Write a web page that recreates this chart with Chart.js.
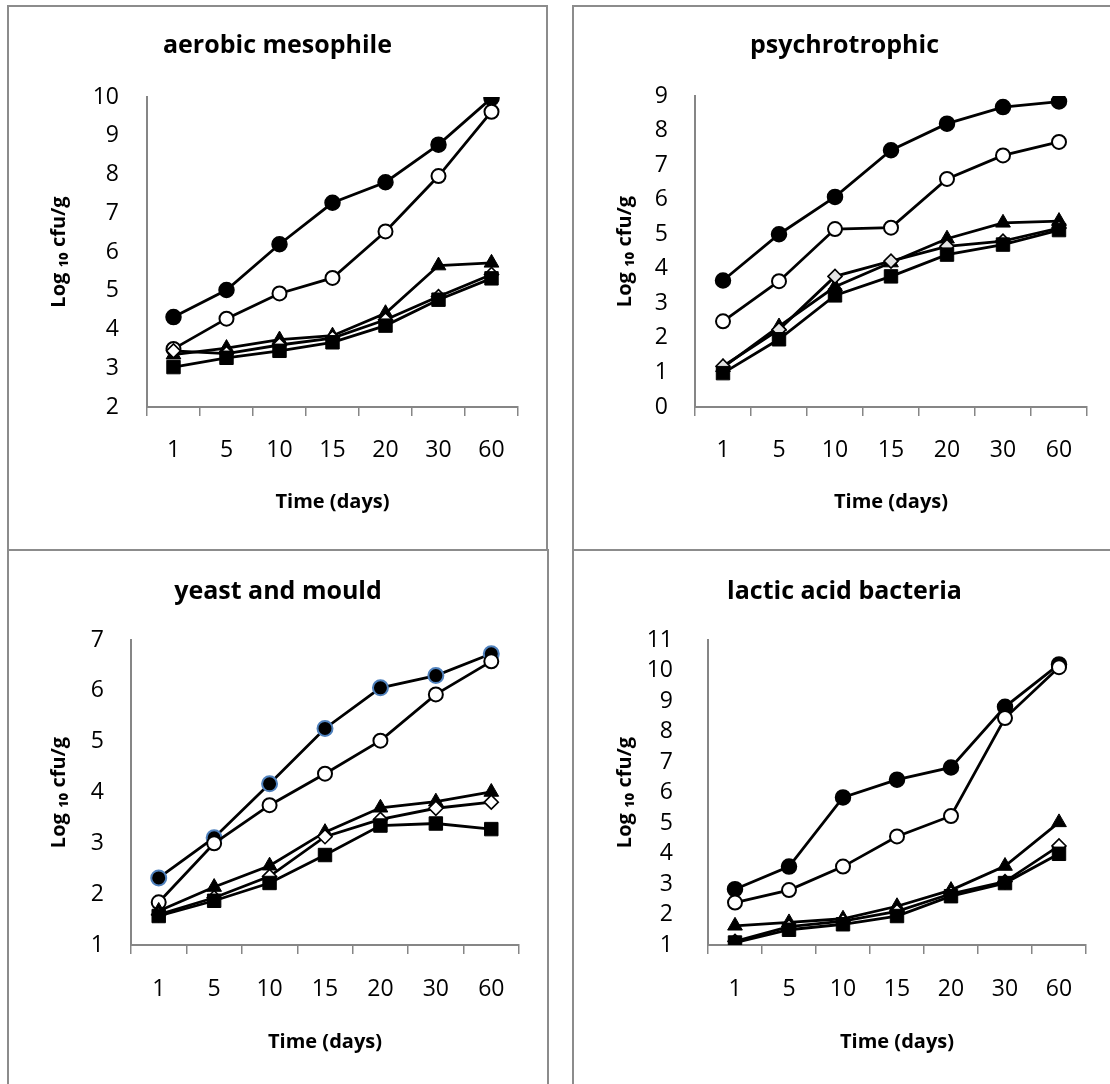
<!DOCTYPE html>
<html><head><meta charset="utf-8">
<script src="https://cdn.jsdelivr.net/npm/chart.js@4.4.0/dist/chart.umd.min.js"></script>
<style>
html,body{margin:0;padding:0;background:#fff;overflow:hidden;width:1110px;height:1084px;position:relative;}
.panel{position:absolute;box-sizing:border-box;border:2px solid #8c8c8c;background:#fff;overflow:hidden;}
.panel canvas{position:absolute;left:0;top:0;}
</style></head><body>
<div class="panel" style="left:7px;top:5px;width:541px;height:546px"><canvas id="c1"></canvas></div>
<div class="panel" style="left:572px;top:5px;width:545px;height:546px"><canvas id="c2"></canvas></div>
<div class="panel" style="left:7px;top:549px;width:542px;height:546px"><canvas id="c3"></canvas></div>
<div class="panel" style="left:572px;top:549px;width:545px;height:546px"><canvas id="c4"></canvas></div>
<script>
// ---- data ----
const days = ['1','5','10','15','20','30','60'];

// aerobic mesophile
const amFilledCircle = [4.32, 5.02, 6.20, 7.27, 7.80, 8.77, 9.97];
const amOpenCircle   = [3.50, 4.28, 4.93, 5.33, 6.53, 7.96, 9.62];
const amTriangle     = [3.35, 3.52, 3.74, 3.84, 4.42, 5.65, 5.72];
const amDiamond      = [3.45, 3.38, 3.60, 3.78, 4.25, 4.85, 5.42];
const amSquare       = [3.03, 3.27, 3.45, 3.67, 4.10, 4.77, 5.32];

// psychrotrophic
const psFilledCircle = [3.66, 5.00, 6.08, 7.43, 8.20, 8.68, 8.84];
const psOpenCircle   = [2.48, 3.64, 5.15, 5.19, 6.60, 7.28, 7.67];
const psTriangle     = [1.15, 2.33, 3.48, 4.18, 4.87, 5.33, 5.38];
const psDiamond      = [1.18, 2.24, 3.78, 4.22, 4.65, 4.80, 5.18];
const psSquare       = [0.98, 1.96, 3.23, 3.78, 4.41, 4.70, 5.12];

// yeast and mould
const ymFilledCircle = [2.32, 3.11, 4.17, 5.26, 6.06, 6.30, 6.73];
const ymOpenCircle   = [1.84, 3.00, 3.75, 4.37, 5.02, 5.93, 6.58];
const ymTriangle     = [1.67, 2.14, 2.56, 3.22, 3.70, 3.82, 4.01];
const ymDiamond      = [1.60, 1.93, 2.35, 3.13, 3.47, 3.69, 3.81];
const ymSquare       = [1.57, 1.87, 2.22, 2.77, 3.35, 3.39, 3.28];

// lactic acid bacteria
const labFilledCircle = [2.83, 3.57, 5.84, 6.42, 6.82, 8.81, 10.20];
const labOpenCircle   = [2.39, 2.80, 3.57, 4.56, 5.23, 8.44, 10.11];
const labTriangle     = [1.63, 1.74, 1.86, 2.27, 2.80, 3.59, 5.02];
const labDiamond      = [1.12, 1.60, 1.78, 2.10, 2.68, 3.08, 4.25];
const labSquare       = [1.08, 1.50, 1.68, 1.95, 2.60, 3.03, 3.99];

const titles = ['aerobic mesophile','psychrotrophic','yeast and mould','lactic acid bacteria'];
const yRanges = [[2,10],[0,9],[1,7],[1,11]];
const xTitle = 'Time (days)';
const yTitle = 'Log \u2081\u2080 cfu/g';

// ---- styling ----
Chart.defaults.font.family = "'Open Sans', 'DejaVu Sans', sans-serif";
Chart.defaults.color = '#000';

const TITLE_SIZE = 25, TICK_SIZE = 23, AXT_SIZE = 20;
const tLH = TITLE_SIZE * 1.2, kLH = TICK_SIZE * 1.2, aLH = AXT_SIZE * 1.2;

const markers = [
  {pointStyle:'circle',  radius:7.5, bg:'#000', bc:'#000', bw:1.5},
  {pointStyle:'circle',  radius:7,   bg:'#fff', bc:'#000', bw:2},
  {pointStyle:'triangle',radius:8.5, bg:'#000', bc:'#000', bw:1},
  {pointStyle:'rectRot', radius:7,   bg:'#fff', bc:'#000', bw:1.6},
  {pointStyle:'rect',    radius:9.5, bg:'#000', bc:'#000', bw:1}
];

function makeChart(id, title, range, series, geo, overrides) {
  const cv = document.getElementById(id);
  const W = cv.parentElement.clientWidth, H = cv.parentElement.clientHeight;
  cv.width = W; cv.height = H; cv.style.width = W + 'px'; cv.style.height = H + 'px';
  const padR = W - geo.R;
  const datasets = series.map((d, i) => {
    const m = Object.assign({}, markers[i], (overrides && overrides[i]) || {});
    return {
      label: 'S' + (i + 1), data: d, order: series.length - 1 - i,
      borderColor: '#000', borderWidth: 2.8, tension: 0, fill: false,
      pointStyle: m.pointStyle, pointRadius: m.radius, pointHoverRadius: m.radius,
      pointBackgroundColor: m.bg, pointBorderColor: m.bc, pointBorderWidth: m.bw
    };
  });
  new Chart(cv, {
    type: 'line',
    data: { labels: days, datasets },
    options: {
      responsive: false, animation: false, devicePixelRatio: 1,
      layout: { padding: { left: padR, right: padR, top: 0, bottom: 0 } },
      plugins: {
        legend: { display: false }, tooltip: { enabled: false },
        title: { display: true, text: title, color: '#000',
          font: { size: TITLE_SIZE, weight: 'bold' },
          padding: { top: geo.titleY - tLH / 2, bottom: geo.T - geo.titleY - tLH / 2 } }
      },
      scales: {
        x: {
          type: 'category', offset: true,
          grid: { display: true, offset: true, drawOnChartArea: false, drawTicks: true, tickLength: 9, color: '#868686', lineWidth: 1.5 },
          border: { display: true, color: '#868686', width: 2 },
          ticks: { font: { size: TICK_SIZE }, color: '#000', padding: (geo.xTickY - geo.B) - 9 - kLH / 2, maxRotation: 0, autoSkip: false },
          title: { display: true, text: xTitle, color: '#000', font: { size: AXT_SIZE, weight: 'bold' },
                   padding: { top: 0, bottom: (H - geo.xTitleY) - aLH / 2 } },
          afterFit: s => { s.height = H - geo.B; }
        },
        y: {
          min: range[0], max: range[1],
          grid: { display: true, drawOnChartArea: false, drawTicks: false },
          border: { display: true, color: '#868686', width: 2 },
          ticks: { stepSize: 1, autoSkip: false, font: { size: TICK_SIZE }, color: '#000', padding: geo.yTickGap },
          title: { display: true, text: yTitle, color: '#000', font: { size: AXT_SIZE, weight: 'bold' },
                   padding: { top: geo.yTitleX - padR - aLH / 2, bottom: 0 } },
          afterFit: s => { s.width = geo.L - padR; }
        }
      }
    }
  });
}

makeChart('c1', titles[0], yRanges[0],
  [amFilledCircle, amOpenCircle, amTriangle, amDiamond, amSquare],
  {L:138, R:509, T:90, B:400, titleY:39, xTickY:443, xTitleY:495, yTitleX:50, yTickGap:28});
makeChart('c2', titles[1], yRanges[1],
  [psFilledCircle, psOpenCircle, psTriangle, psDiamond, psSquare],
  {L:121, R:513, T:89, B:400, titleY:39, xTickY:443, xTitleY:495, yTitleX:51, yTickGap:27},
  {3: {bg:'#e4e4e4'}});
makeChart('c3', titles[2], yRanges[2],
  [ymFilledCircle, ymOpenCircle, ymTriangle, ymDiamond, ymSquare],
  {L:122, R:510, T:89, B:394, titleY:41, xTickY:438, xTitleY:491, yTitleX:50, yTickGap:27},
  {0: {bc:'#4f81bd', bw:2}});
makeChart('c4', titles[3], yRanges[3],
  [labFilledCircle, labOpenCircle, labTriangle, labDiamond, labSquare],
  {L:134, R:512, T:89, B:394, titleY:41, xTickY:438, xTitleY:491, yTitleX:51, yTickGap:35});
</script>
</body></html>
